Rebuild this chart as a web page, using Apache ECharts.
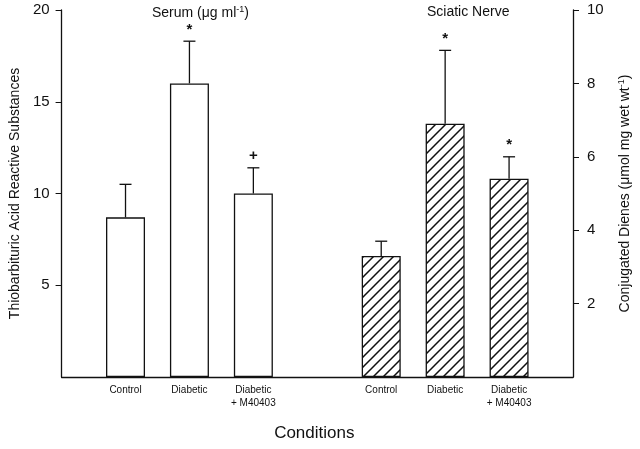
<!DOCTYPE html>
<html>
<head>
<meta charset="utf-8">
<script src="https://cdn.jsdelivr.net/npm/echarts@6/dist/echarts.min.js"></script>
<style>
  html, body { margin: 0; padding: 0; background: #fff; }
  #chart { width: 640px; height: 449px; }
</style>
</head>
<body>
<div id="chart"></div>
<script>
// categories (empty slots are spacers at the ends and between groups)
const categories = ['', 'Control', 'Diabetic', 'Diabetic\n+ M40403', '', 'Control', 'Diabetic', 'Diabetic\n+ M40403', ''];

// serum TBARS (left axis, ug/ml)
const serumIdx = [1, 2, 3];
const serumMean = [8.7, 16.0, 10.0];
const serumErrTop = [10.5, 18.3, 11.4];
const serumMark = ['', '*', '+'];

// sciatic nerve conjugated dienes (right axis, umol/mg wet wt)
const nerveIdx = [5, 6, 7];
const nerveMean = [3.3, 6.9, 5.4];
const nerveErrTop = [3.7, 8.9, 6.0];
const nerveMark = ['', '*', '*'];

const leftTicks = [0, 5, 10, 15, 20];
const rightTicks = [0, 2, 4, 6, 8, 10];

const font = 'Liberation Sans, Arial, sans-serif';

// hatch pattern for the nerve bars
function makeHatch() {
  const s = 10;
  const c = document.createElement('canvas');
  c.width = s; c.height = s;
  const ctx = c.getContext('2d');
  ctx.fillStyle = '#fff';
  ctx.fillRect(0, 0, s, s);
  ctx.strokeStyle = '#111';
  ctx.lineWidth = 1.5;
  ctx.beginPath();
  ctx.moveTo(-1, s + 1); ctx.lineTo(s + 1, -1);
  ctx.moveTo(-1, 1); ctx.lineTo(1, -1);
  ctx.moveTo(s - 1, s + 1); ctx.lineTo(s + 1, s - 1);
  ctx.stroke();
  return c;
}

const toPairs = (idx, vals) => idx.map((x, i) => [x, vals[i]]);

function errorSeries(idx, tops, means, marks, axis) {
  return {
    type: 'custom',
    yAxisIndex: axis,
    data: idx.map((x, i) => [x, means[i], tops[i]]),
    renderItem: function (params, api) {
      const base = api.coord([api.value(0), api.value(1)]);
      const top = api.coord([api.value(0), api.value(2)]);
      const mark = marks[params.dataIndex];
      const children = [
        { type: 'line', shape: { x1: base[0], y1: base[1], x2: top[0], y2: top[1] },
          style: { stroke: '#111', lineWidth: 1.3 } },
        { type: 'line', shape: { x1: top[0] - 6, y1: top[1], x2: top[0] + 6, y2: top[1] },
          style: { stroke: '#111', lineWidth: 1.3 } }
      ];
      if (mark) {
        children.push({
          type: 'text',
          style: { text: mark, x: top[0], y: top[1] - 4, align: 'center', verticalAlign: 'bottom',
                   font: 'bold 15px ' + font, fill: '#111' }
        });
      }
      return { type: 'group', children: children };
    },
    z: 3
  };
}

const supRich = {
  a: { fontFamily: font, fontSize: 14, color: '#111' },
  sup: { fontFamily: font, fontSize: 9, color: '#111', verticalAlign: 'top', padding: [0, 0, 7, 0] }
};

const chart = echarts.init(document.getElementById('chart'));

const option = {
  animation: false,
  backgroundColor: '#fff',
  grid: { left: 60, right: 66, top: 10, bottom: 72 },
  graphic: [
    { type: 'text', left: 152, top: 5,
      style: { text: '{a|Serum (μg ml}{sup|-1}{a|)}', rich: supRich, fill: '#111' } },
    { type: 'text', left: 427, top: 5,
      style: { text: 'Sciatic Nerve', font: '14px ' + font, fill: '#111' } }
  ],
  xAxis: {
    type: 'category',
    data: categories,
    boundaryGap: false,
    axisLine: { lineStyle: { color: '#111', width: 1.3 } },
    axisTick: { show: false },
    axisLabel: { interval: 0, fontFamily: font, fontSize: 10, color: '#111', margin: 7, lineHeight: 13 },
    name: 'Conditions',
    nameLocation: 'middle',
    nameGap: 48,
    nameTextStyle: { fontFamily: font, fontSize: 17, color: '#111', padding: [0, 6, 0, 0] }
  },
  yAxis: [
    {
      type: 'value', min: 0, max: 20, interval: 5, position: 'left',
      axisLine: { show: true, lineStyle: { color: '#111', width: 1.3 } },
      axisTick: { show: true, length: 6, customValues: leftTicks.slice(1), lineStyle: { color: '#111' } },
      axisLabel: { fontFamily: font, fontSize: 15, color: '#111', margin: 12, customValues: leftTicks.slice(1) },
      splitLine: { show: false },
      name: 'Thiobarbituric Acid Reactive Substances',
      nameLocation: 'middle', nameGap: 36, nameRotate: 90,
      nameTextStyle: { fontFamily: font, fontSize: 14, color: '#111' }
    },
    {
      type: 'value', min: 0, max: 10, interval: 2, position: 'right',
      axisLine: { show: true, lineStyle: { color: '#111', width: 1.3 } },
      axisTick: { show: true, length: 6, customValues: rightTicks.slice(1), lineStyle: { color: '#111' } },
      axisLabel: { fontFamily: font, fontSize: 15, color: '#111', margin: 14, customValues: rightTicks.slice(1) },
      splitLine: { show: false },
      name: '{a|Conjugated Dienes (μmol mg wet wt}{sup|-1}{a|)}',
      nameLocation: 'middle', nameGap: 44, nameRotate: 90,
      nameTextStyle: { fontFamily: font, fontSize: 14, color: '#111', rich: supRich }
    }
  ],
  series: [
    {
      type: 'bar', yAxisIndex: 0, barWidth: 39, barGap: '-100%',
      data: toPairs(serumIdx, serumMean),
      itemStyle: { color: '#fff', borderColor: '#111', borderWidth: 1.3 }
    },
    {
      type: 'bar', yAxisIndex: 1, barWidth: 39, barGap: '-100%',
      data: toPairs(nerveIdx, nerveMean),
      itemStyle: { color: { image: makeHatch(), repeat: 'repeat' }, borderColor: '#111', borderWidth: 1.3 }
    },
    errorSeries(serumIdx, serumErrTop, serumMean, serumMark, 0),
    errorSeries(nerveIdx, nerveErrTop, nerveMean, nerveMark, 1)
  ]
};

chart.setOption(option);
</script>
</body>
</html>
